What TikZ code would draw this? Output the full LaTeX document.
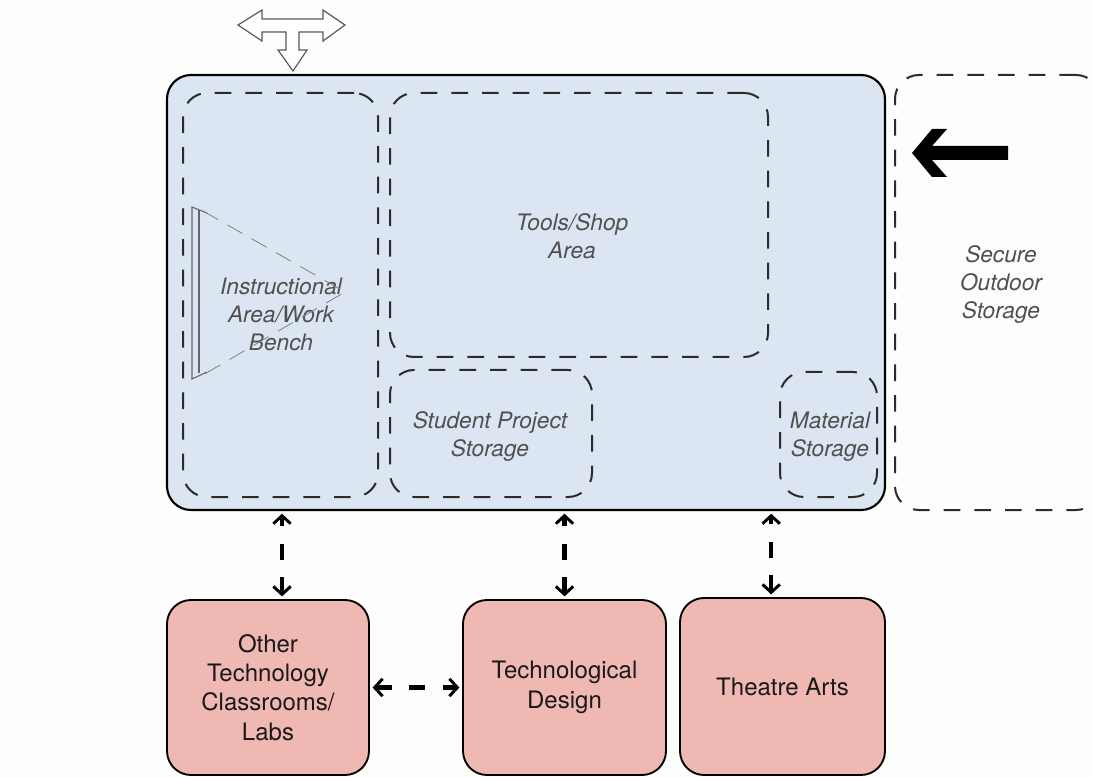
\documentclass[tikz,border=0pt]{standalone}
\usepackage{fontspec}
\setmainfont{TeX Gyre Heros}
\usetikzlibrary{arrows.meta}
\definecolor{paper}{HTML}{FDFDFB}
\definecolor{roomblue}{HTML}{DCE6F2}
\definecolor{roompink}{HTML}{F0B8B3}
\definecolor{zonegray}{HTML}{2B2B2B}
\definecolor{labelgray}{HTML}{505050}
\tikzset{
  room/.style={draw,line width=1.6pt,rounded corners=18pt,fill=roomblue,inner sep=0pt},
  zone/.style={draw=zonegray,line width=1.5pt,dash pattern=on 12.5pt off 10.5pt,rounded corners=18pt,inner sep=0pt},
  zonetext/.style={text=labelgray,font=\fontsize{17}{21}\selectfont\itshape,align=center,inner sep=0pt},
  lab/.style={draw,line width=1.4pt,rounded corners=18pt,fill=roompink,text=black!90,font=\fontsize{18}{22}\selectfont,align=center},
  barb/.tip={Straight Barb[length=6pt,width=13pt,line width=2.2pt]},
  link/.style={line width=3.2pt,dash pattern=on 12pt off 13pt,barb-barb,shorten <=2pt,shorten >=2pt},
}
\begin{document}
\begin{tikzpicture}[x=0.75pt,y=-0.75pt]
  \clip (0,0) rectangle (1093,777);
  \fill[paper] (0,0) rectangle (1093,777);

  % main room and zones
  \node [room,minimum width=538.5pt,minimum height=326.25pt](main) at (526,292.5){};
  \node [zone,minimum width=146.25pt,minimum height=303pt](instr) at (280.5,295){};
  \node [zone,minimum width=283.5pt,minimum height=198pt](tools) at (579,225){};
  \node [zone,minimum width=151.5pt,minimum height=95.25pt](student) at (491,433.5){};
  \node [zone,minimum width=72.75pt,minimum height=93.75pt](material) at (828.5,434.5){};
  \node [zone,minimum width=153.75pt,minimum height=326.25pt](outdoor) at (997.5,292.5){};

  \node [zonetext](instrlabel) at (281,314){Instructional\\Area/Work\\Bench};
  \node [zonetext](toolslabel) at (572,236){Tools/Shop\\Area};
  \node [zonetext](studentlabel) at (490,437){Student Project\\Storage};
  \node [zonetext](materiallabel) at (830,437){Material\\Storage};
  \node [zonetext](outdoorlabel) at (1001,285){Secure\\Outdoor\\Storage};

  % board and viewing cone
  \draw[gray!80!black,line width=0.8pt] (207,213) -- (192,207) -- (192,379) -- (207,372);
  \draw[gray!80!black,line width=0.8pt] (199,210) -- (199,373);
  \draw[gray,line width=0.6pt,dash pattern=on 13pt off 8pt] (203,211) -- (345,292) -- (203,375);

  % entry arrow
  \draw[gray!70!black,line width=0.9pt,fill=white] (238,25) -- (262,10) -- (262,19) -- (323,19) -- (323,10)
    -- (345,25) -- (323,41) -- (323,32) -- (299,32) -- (299,50) -- (307,50) -- (293,71) -- (278,50)
    -- (286,50) -- (286,32) -- (262,32) -- (262,41) -- cycle;

  % loading arrow
  \fill (912,153) -- (932,129) -- (947,129) -- (932,146) -- (1008,146) -- (1008,160)
    -- (932,160) -- (947,177) -- (932,177) -- cycle;

  % connected rooms
  \node [lab,minimum width=151.5pt,minimum height=131.25pt](other) at (268,687.5){Other\\Technology\\Classrooms/\\Labs};
  \node [lab,minimum width=152.25pt,minimum height=131.25pt](design) at (564.5,687.5){Technological\\Design};
  \node [lab,minimum width=153.75pt,minimum height=132.75pt](theatre) at (782.5,686.5){Theatre Arts};

  \draw[link] ([xshift=10.5pt]other.north) -- ([xshift=10.5pt]other.north |- main.south);
  \draw[link] (design.north) -- (design.north |- main.south);
  \draw[link] ([xshift=-8.5pt]theatre.north) -- ([xshift=-8.5pt]theatre.north |- main.south);
  \draw[link] (other.east) -- (design.west);
\end{tikzpicture}
\end{document}
